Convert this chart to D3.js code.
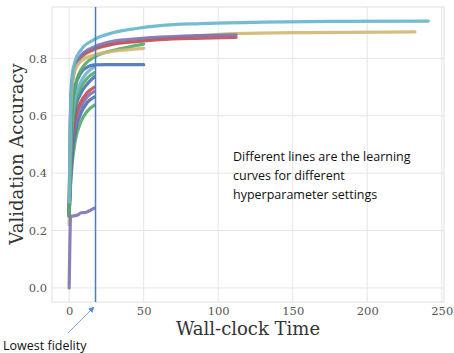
<!DOCTYPE html>
<html>
<head>
<meta charset="utf-8">
<script src="https://cdn.jsdelivr.net/npm/d3@7"></script>
<style>
  body { margin: 0; background: #fff; }
  svg { display: block; }
</style>
</head>
<body>
<svg id="chart"></svg>
<script>
var width = 454,
    height = 353

// [wall-clock time, validation accuracy]
var cyanLong   = [[0,0.30],[1,0.65],[2,0.74],[4,0.79],[8,0.83],[17,0.866],[30,0.89],[45,0.904],[61,0.914],[88,0.921],[130,0.926],[180,0.929],[241,0.93]]
var yellowLong = [[0,0.22],[1,0.60],[2,0.70],[4,0.76],[8,0.80],[17,0.83],[30,0.85],[50,0.865],[80,0.877],[112,0.886],[160,0.89],[232,0.892]]
var purpleLong = [[0,0.25],[1,0.62],[2,0.71],[4,0.77],[8,0.81],[17,0.84],[30,0.86],[45,0.868],[61,0.874],[85,0.879],[112,0.882]]
var redLong    = [[0,0.28],[1,0.63],[2,0.72],[4,0.77],[8,0.805],[17,0.833],[30,0.85],[45,0.858],[61,0.865],[85,0.87],[112,0.873]]
var greenLong  = [[0,0.25],[1,0.52],[2,0.62],[4,0.70],[8,0.76],[17,0.805],[25,0.822],[34,0.833],[42,0.842],[50,0.85]]
var yellowMid  = [[0,0.30],[1,0.62],[2,0.71],[4,0.76],[8,0.79],[17,0.812],[30,0.825],[50,0.835]]
var blueFlat   = [[0,0.25],[1,0.52],[2,0.63],[4,0.70],[8,0.75],[13,0.772],[17,0.777],[25,0.778],[50,0.778]]
var cyanShort  = [[0,0.28],[1,0.48],[2,0.58],[4,0.66],[8,0.72],[12,0.75],[17,0.771]]
var greenShort = [[0,0.26],[1,0.45],[2,0.55],[4,0.64],[8,0.70],[12,0.73],[17,0.75]]
var blueShort  = [[0,0.27],[1,0.44],[2,0.54],[4,0.62],[8,0.68],[12,0.71],[17,0.736]]
var redShort   = [[0,0.26],[1,0.42],[2,0.51],[4,0.59],[8,0.65],[12,0.68],[17,0.70]]
var purpleShort= [[0,0.27],[1,0.40],[2,0.49],[4,0.57],[8,0.63],[12,0.665],[17,0.685]]
var blueLow    = [[0,0.26],[1,0.38],[2,0.46],[4,0.54],[8,0.61],[12,0.645],[17,0.666]]
var greenLow   = [[0,0.25],[1,0.36],[2,0.43],[4,0.51],[8,0.58],[12,0.615],[17,0.637]]
var purpleLow  = [[0,0.0],[0.5,0.16],[1,0.25],[3,0.251],[6,0.255],[8,0.262],[11,0.263],[14,0.27],[17,0.278]]

var curves = [
    {pts: greenLow, color: "#55A868"},
    {pts: blueLow, color: "#4C72B0"},
    {pts: purpleShort, color: "#8172B2"},
    {pts: redShort, color: "#C44E52"},
    {pts: blueShort, color: "#4C72B0"},
    {pts: greenShort, color: "#55A868"},
    {pts: cyanShort, color: "#64B5CD"},
    {pts: blueFlat, color: "#4C72B0"},
    {pts: yellowLong, color: "#CCB974"},
    {pts: redLong, color: "#C44E52"},
    {pts: purpleLong, color: "#8172B2"},
    {pts: greenLong, color: "#55A868"},
    {pts: yellowMid, color: "#CCB974"},
    {pts: cyanLong, color: "#64B5CD"},
    {pts: purpleLow, color: "#8172B2"}
]

var xTicks = [0, 50, 100, 150, 200, 250]
var yTicks = [0.0, 0.2, 0.4, 0.6, 0.8]
var lowestFidelity = 17.7

var margin = {left: 52, right: 10, top: 7, bottom: 51}

var svg = d3.select("#chart")
    .attr("width", width)
    .attr("height", height)

var x = d3.scaleLinear()
    .domain([-11.5, 251.5])
    .range([margin.left, width - margin.right])

var y = d3.scaleLinear()
    .domain([-0.049, 0.979])
    .range([height - margin.bottom, margin.top])

// grid
svg.append("g")
    .selectAll("line.vg")
    .data(xTicks)
    .enter().append("line")
    .attr("x1", function(d){ return x(d) })
    .attr("x2", function(d){ return x(d) })
    .attr("y1", margin.top)
    .attr("y2", height - margin.bottom)
    .attr("stroke", "#e6e6e6")
    .attr("stroke-width", 1)

svg.append("g")
    .selectAll("line.hg")
    .data(yTicks)
    .enter().append("line")
    .attr("x1", margin.left)
    .attr("x2", width - margin.right)
    .attr("y1", function(d){ return y(d) })
    .attr("y2", function(d){ return y(d) })
    .attr("stroke", "#e6e6e6")
    .attr("stroke-width", 1)

svg.append("rect")
    .attr("x", margin.left)
    .attr("y", margin.top)
    .attr("width", width - margin.right - margin.left)
    .attr("height", height - margin.bottom - margin.top)
    .attr("fill", "none")
    .attr("stroke", "#e0e0e0")
    .attr("stroke-width", 1)

// tick labels
var xAxis = svg.append("g")
    .attr("transform", "translate(0," + (height - margin.bottom) + ")")
    .call(d3.axisBottom(x).tickValues(xTicks).tickSize(0).tickPadding(5))
xAxis.select(".domain").remove()
xAxis.selectAll("text")
    .attr("font-family", "DejaVu Serif")
    .attr("font-size", 11.5)
    .attr("fill", "#555")

var yAxis = svg.append("g")
    .attr("transform", "translate(" + margin.left + ",0)")
    .call(d3.axisLeft(y).tickValues(yTicks).tickFormat(d3.format(".1f")).tickSize(0).tickPadding(5))
yAxis.select(".domain").remove()
yAxis.selectAll("text")
    .attr("font-family", "DejaVu Serif")
    .attr("font-size", 11.5)
    .attr("fill", "#555")

// curves
var line = d3.line()
    .x(function(d){ return x(d[0]) })
    .y(function(d){ return y(d[1]) })
    .curve(d3.curveMonotoneX)

svg.append("g")
    .selectAll("path")
    .data(curves)
    .enter().append("path")
    .attr("d", function(d){ return line(d.pts) })
    .attr("fill", "none")
    .attr("stroke", function(d){ return d.color })
    .attr("stroke-width", 3.2)
    .attr("stroke-opacity", 0.9)
    .attr("stroke-linecap", "round")
    .attr("stroke-linejoin", "round")

// lowest fidelity marker
svg.append("line")
    .attr("x1", x(lowestFidelity))
    .attr("x2", x(lowestFidelity))
    .attr("y1", margin.top)
    .attr("y2", height - margin.bottom)
    .attr("stroke", "#4a7ebb")
    .attr("stroke-width", 1.5)

svg.append("defs").append("marker")
    .attr("id", "arrow")
    .attr("viewBox", "0 0 10 10")
    .attr("refX", 9)
    .attr("refY", 5)
    .attr("markerWidth", 6)
    .attr("markerHeight", 6)
    .attr("orient", "auto")
    .append("path")
    .attr("d", "M0,0 L10,5 L0,10 z")
    .attr("fill", "#5b8fd0")

svg.append("line")
    .attr("x1", 68)
    .attr("y1", 333)
    .attr("x2", 94)
    .attr("y2", 307)
    .attr("stroke", "#7aa6dd")
    .attr("stroke-width", 1)
    .attr("marker-end", "url(#arrow)")

// axis titles
svg.append("text")
    .attr("x", x(120))
    .attr("y", 335)
    .attr("text-anchor", "middle")
    .attr("font-family", "DejaVu Serif")
    .attr("font-size", 18)
    .attr("fill", "#333")
    .text("Wall-clock Time")

svg.append("text")
    .attr("transform", "translate(23," + 154 + ") rotate(-90)")
    .attr("text-anchor", "middle")
    .attr("font-family", "DejaVu Serif")
    .attr("font-size", 18)
    .attr("fill", "#333")
    .text("Validation Accuracy")

// annotations
var note = ["Different lines are the learning", "curves for different", "hyperparameter settings"]
svg.append("g")
    .selectAll("text")
    .data(note)
    .enter().append("text")
    .attr("x", 233)
    .attr("y", function(d, i){ return 161 + i * 19 })
    .attr("font-family", "Open Sans")
    .attr("font-size", 12.5)
    .attr("fill", "#111")
    .text(function(d){ return d })

svg.append("text")
    .attr("x", 3)
    .attr("y", 350)
    .attr("font-family", "Open Sans")
    .attr("font-size", 12.5)
    .attr("fill", "#111")
    .text("Lowest fidelity")
</script>
</body>
</html>
